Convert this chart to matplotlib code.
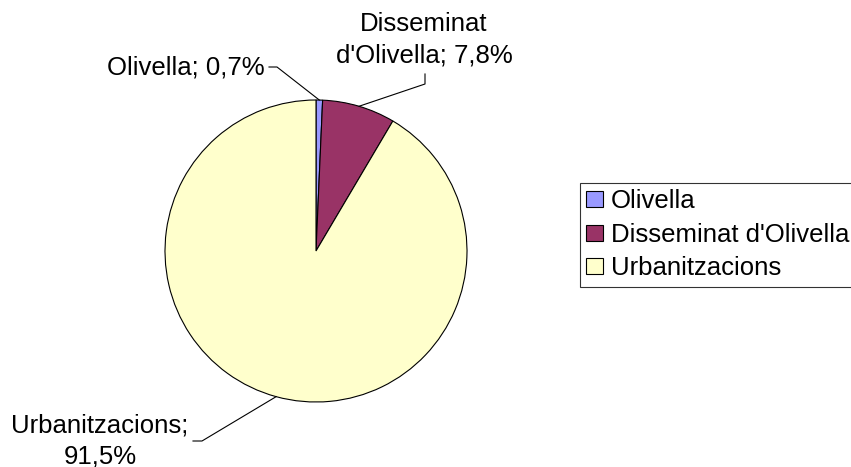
import matplotlib
matplotlib.use("Agg")
import matplotlib.pyplot as plt
import numpy as np

categories = ["Olivella", "Disseminat d'Olivella", "Urbanitzacions"]
values = [0.7, 7.8, 91.5]
label_texts = ["Olivella; 0,7%", "Disseminat\nd'Olivella; 7,8%", "Urbanitzacions;\n91,5%"]
colors = ["#9999FF", "#993366", "#FFFFCC"]

W, H = 851, 467
plt.rcParams['font.family'] = ['Liberation Sans', 'DejaVu Sans']
fig = plt.figure(figsize=(W / 100, H / 100), dpi=100)
ax = fig.add_axes([0, 0, 1, 1])

cx, cy, r = 316, H - 251, 151
wedges, _ = ax.pie(values, colors=colors, startangle=90, counterclock=False,
                   center=(cx, cy), radius=r,
                   wedgeprops=dict(edgecolor="black", linewidth=0.8))
ax.set_xlim(0, W)
ax.set_ylim(0, H)
ax.set_aspect("equal")
ax.axis("off")

fs = 18.5
# label anchor positions (pixels from top-left) and leader elbow points
text_pos = [(265, 68, "right"), (424, 40, "center"), (100, 441, "center")]
elbows = [[(269, 67), (277, 67)], [(425, 74), (425, 84)], [(193, 441), (202, 441)]]
for w, txt, (tx, ty, ha), elb in zip(wedges, label_texts, text_pos, elbows):
    ang = np.deg2rad((w.theta1 + w.theta2) / 2)
    ex = cx + r * np.cos(ang)
    ey = cy + r * np.sin(ang)
    ax.text(tx, H - ty, txt, ha=ha, va="center", fontsize=fs, multialignment="center",
            linespacing=1.38)
    xs = [p[0] for p in elb] + [ex]
    ys = [H - p[1] for p in elb] + [ey]
    ax.plot(xs, ys, color="black", linewidth=0.8)

leg = ax.legend(wedges, categories, loc="upper left",
                bbox_to_anchor=(579.5 / W, 1 - 183 / H), bbox_transform=fig.transFigure,
                fontsize=fs, frameon=True, fancybox=False, borderaxespad=0,
                handlelength=0.68, handleheight=0.58, handletextpad=0.3,
                labelspacing=0.37, borderpad=0.25)
leg.get_frame().set_edgecolor("black")
leg.get_frame().set_linewidth(0.8)

fig.savefig("out.png", dpi=100)
